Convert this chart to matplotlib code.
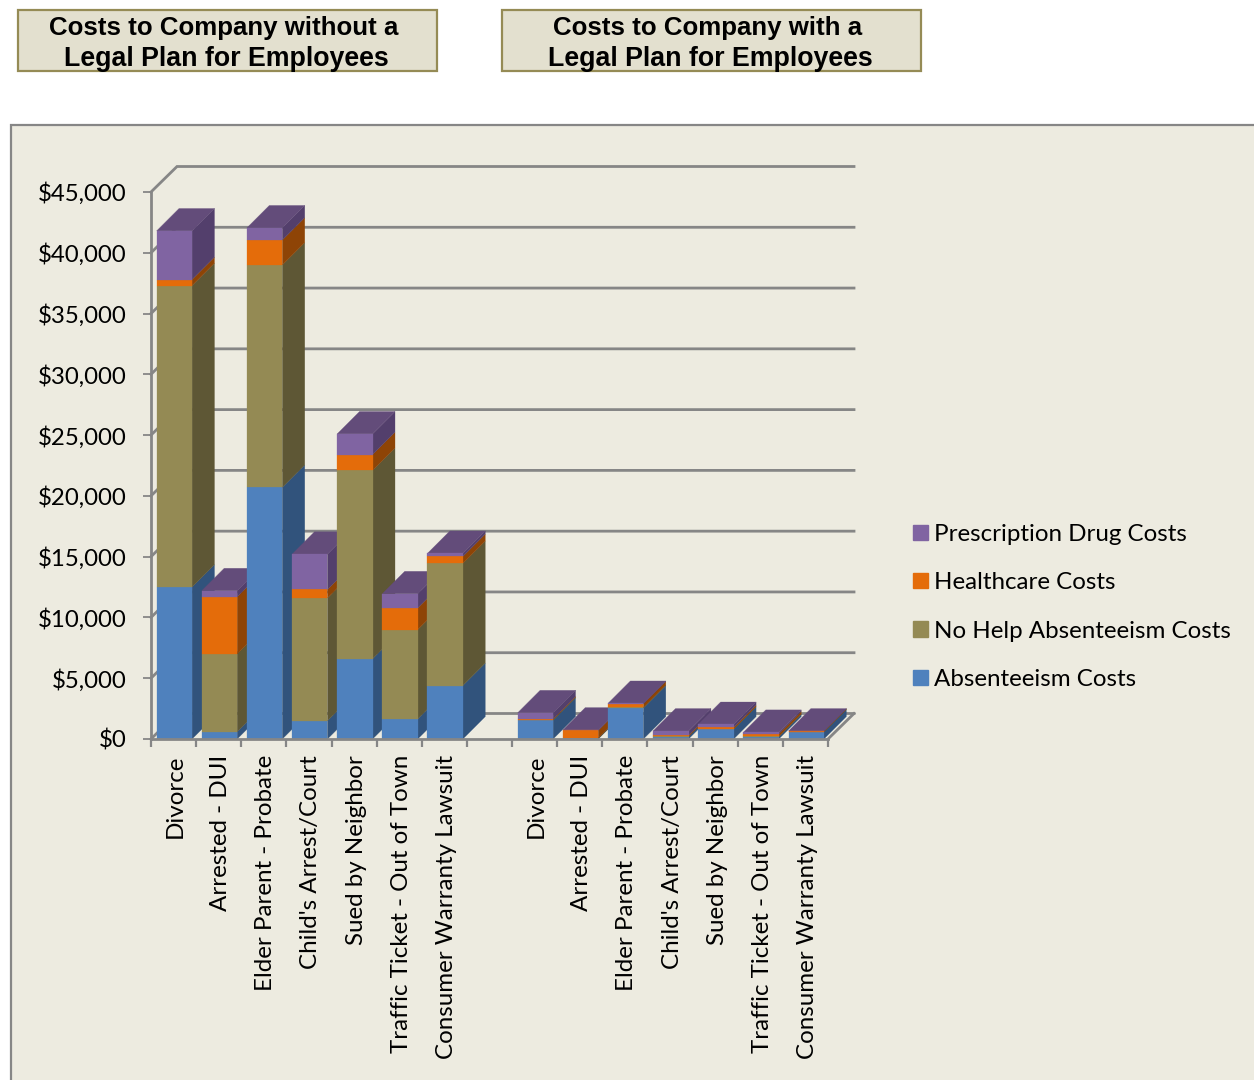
import matplotlib
matplotlib.use("Agg")
import matplotlib.pyplot as plt
from matplotlib.patches import Polygon, Rectangle, Patch
from matplotlib.ticker import FuncFormatter

# Scenario categories, repeated for both employer groups
categories = ["Divorce", "Arrested - DUI", "Elder Parent - Probate", "Child's Arrest/Court",
              "Sued by Neighbor", "Traffic Ticket - Out of Town", "Consumer Warranty Lawsuit"]

# Costs without a legal plan
absenteeism_without = [12500, 600, 20700, 1500, 6600, 1650, 4400]
no_help_without = [24800, 6400, 18300, 10100, 15500, 7350, 10050]
healthcare_without = [500, 4700, 2050, 700, 1300, 1780, 570]
prescription_without = [4000, 500, 1000, 2900, 1700, 1170, 250]

# Costs with a legal plan
absenteeism_with = [1550, 50, 2550, 190, 800, 190, 590]
no_help_with = [50, 20, 50, 20, 30, 20, 10]
healthcare_with = [60, 650, 300, 90, 120, 220, 50]
prescription_with = [500, 20, 30, 360, 250, 120, 10]

series_names = ["Absenteeism Costs", "No Help Absenteeism Costs", "Healthcare Costs", "Prescription Drug Costs"]
front_colors = ["#4F81BD", "#948A54", "#E46C0A", "#8064A2"]
side_colors = ["#31537C", "#5E5735", "#8E4406", "#533F6C"]
top_color = "#634C7A"
panel_color = "#EDEBE0"
grid_color = "#868686"
y_ticks = list(range(0, 50000, 5000))

W, H = 1254, 1080
plt.rcParams["font.family"] = ["Lato", "DejaVu Sans"]
fig = plt.figure(figsize=(W / 100, H / 100), dpi=100, facecolor="white")

# Backdrop layer addressed in pixels: chart panel and the two heading boxes
bg = fig.add_axes([0, 0, 1, 1], zorder=0)
bg.set_xlim(0, W)
bg.set_ylim(H, 0)
bg.axis("off")
bg.add_patch(Rectangle((11, 125), W + 20, H, facecolor=panel_color, edgecolor=grid_color, linewidth=1.6))
headings = [(18, "Costs to Company without a", "Legal Plan for Employees"),
            (502, "Costs to Company with a", "Legal Plan for Employees")]
for left, first, second in headings:
    bg.add_patch(Rectangle((left, 10), 419, 61, facecolor="#E3E0CF", edgecolor="#958B55", linewidth=1.6))
    bg.text(left + 206, 28.5, first, ha="center", va="center", fontsize=18.6, fontweight="bold",
            family="Liberation Sans", color="black")
    bg.text(left + 208.5, 59.5, second, ha="center", va="center", fontsize=19.3, fontweight="bold",
            family="Liberation Sans", color="black")

# Chart layer: x runs over 15 category slots, y over dollars
ax = fig.add_axes([151 / W, (H - 739) / H, 677 / W, 547 / H], zorder=1)
ax.patch.set_alpha(0)
ax.set_xlim(0, 15)
ax.set_ylim(0, 45000)

slot_px = 677 / 15
dollar_px = 547 / 45000
wall_dx, wall_dy = 26 / slot_px, 25.5 / dollar_px
bar_dx, bar_dy = 22.4 / slot_px, 22.4 / dollar_px
bar_offset, bar_width = 0.125, 0.785

# Walls: floor edge, side-wall diagonals and back-wall gridlines
for v in y_ticks:
    ax.plot([0, wall_dx, 15 + wall_dx], [v, v + wall_dy, v + wall_dy], color=grid_color, lw=2.0,
            clip_on=False, zorder=1, solid_joinstyle="miter")
ax.plot([15, 15 + wall_dx], [0, wall_dy], color=grid_color, lw=2.0, clip_on=False, zorder=1)


def draw_bar(x0, segments, z):
    x1 = x0 + bar_width
    base = 0
    for value, front, side in zip(segments, front_colors, side_colors):
        top = base + value
        ax.add_patch(Polygon([(x1, base), (x1, top), (x1 + bar_dx, top + bar_dy), (x1 + bar_dx, base + bar_dy)],
                             facecolor=side, edgecolor=side, lw=0.2, clip_on=False, zorder=z))
        ax.add_patch(Rectangle((x0, base), bar_width, value, facecolor=front, edgecolor=front, lw=0.2,
                               clip_on=False, zorder=z + 0.2))
        base = top
    ax.add_patch(Polygon([(x0, base), (x1, base), (x1 + bar_dx, base + bar_dy), (x0 + bar_dx, base + bar_dy)],
                         facecolor=top_color, edgecolor=top_color, lw=0.2, clip_on=False, zorder=z + 0.1))


without_plan = list(zip(absenteeism_without, no_help_without, healthcare_without, prescription_without))
with_plan = list(zip(absenteeism_with, no_help_with, healthcare_with, prescription_with))
slots = list(range(7)) + list(range(8, 15))
for i, (slot, segments) in enumerate(zip(slots, without_plan + with_plan)):
    draw_bar(slot + bar_offset, segments, 3 + i)

# Axes styling
for name in ("top", "right"):
    ax.spines[name].set_visible(False)
for name in ("left", "bottom"):
    ax.spines[name].set_color(grid_color)
    ax.spines[name].set_linewidth(2.0)
    ax.spines[name].set_zorder(30)

ax.set_yticks(y_ticks)
ax.yaxis.set_major_formatter(FuncFormatter(lambda v, _: f"${v:,.0f}"))
ax.tick_params(axis="y", length=6, width=1.3, color=grid_color, labelsize=17.3, pad=11.3, labelcolor="black")
ax.set_xticks(range(16))
ax.set_xticklabels([])
ax.tick_params(axis="x", which="major", length=6, width=1.6, color=grid_color)
ax.set_xticks([s + 0.545 for s in slots], minor=True)
ax.set_xticklabels(categories + categories, minor=True, rotation=90, fontsize=17.4,
                   ha="right", va="center", rotation_mode="anchor")
ax.tick_params(axis="x", which="minor", length=0, pad=11.5, labelcolor="black")
ax.set_xlim(0, 15)

handles = [Patch(facecolor=c, edgecolor=c, label=n) for n, c in zip(series_names, front_colors)][::-1]
fig.legend(handles=handles, loc="upper left", bbox_to_anchor=(913 / W, 1 - 524 / H), frameon=False,
           fontsize=17.4, handlelength=0.6, handleheight=0.6, handletextpad=0.26, labelspacing=1.13,
           borderpad=0, borderaxespad=0)

fig.savefig("out.png", dpi=100, facecolor="white")
